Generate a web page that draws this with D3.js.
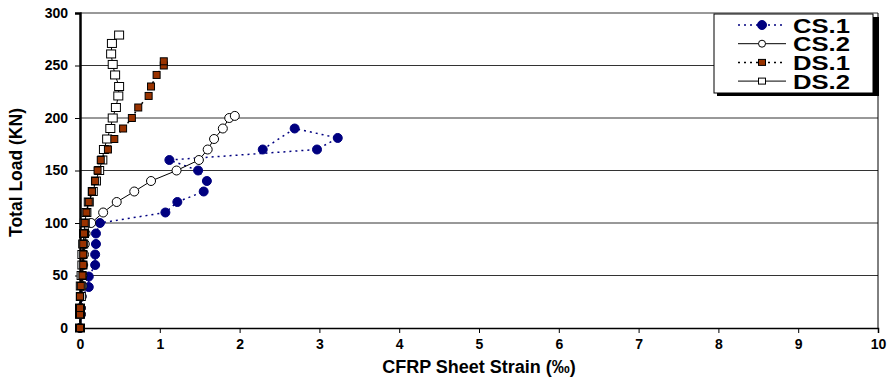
<!DOCTYPE html>
<html>
<head>
<meta charset="utf-8">
<script src="https://cdn.jsdelivr.net/npm/d3@7"></script>
<style>
  body { margin: 0; background: #fff; }
  text { font-family: "Liberation Sans", Arial, sans-serif; font-weight: bold; }
</style>
</head>
<body>
<div id="chart"></div>
<script>
// CS.1 - filled circles, dotted
let cs1Strain = [0, 0.01, 0.01, 0.02, 0.11, 0.11, 0.19, 0.19, 0.2, 0.2, 0.25, 1.07, 1.22, 1.55, 1.59, 1.48, 1.12, 2.97, 3.23, 2.69, 2.29];
let cs1Load   = [0, 13, 19, 30, 39, 49, 60, 70, 80, 90, 100, 110, 120, 130, 140, 150, 160, 170, 181, 190, 170];

// CS.2 - open circles, solid
let cs2Strain = [0, 0.01, 0.01, 0.02, 0.03, 0.03, 0.04, 0.05, 0.06, 0.07, 0.14, 0.29, 0.46, 0.68, 0.89, 1.21, 1.49, 1.6, 1.68, 1.79, 1.87, 1.94];
let cs2Load   = [0, 13, 19, 30, 40, 50, 60, 70, 80, 90, 100, 110, 120, 130, 140, 150, 160, 170, 180, 190, 200, 202];

// DS.1 - filled squares, dotted
let ds1Strain = [0, 0.0, 0.0, 0.0, 0.01, 0.03, 0.04, 0.04, 0.04, 0.05, 0.06, 0.08, 0.11, 0.15, 0.19, 0.22, 0.26, 0.35, 0.43, 0.54, 0.65, 0.73, 0.86, 0.89, 0.96, 1.05, 1.05];
let ds1Load   = [0, 13, 19, 30, 40, 50, 60, 70, 80, 90, 100, 110, 120, 130, 140, 150, 160, 170, 180, 190, 200, 210, 221, 230, 241, 250, 254];

// DS.2 - open squares, solid
let ds2Strain = [0, 0.0, 0.0, 0.01, 0.01, 0.02, 0.03, 0.03, 0.04, 0.05, 0.06, 0.08, 0.11, 0.16, 0.2, 0.24, 0.28, 0.3, 0.34, 0.38, 0.41, 0.45, 0.48, 0.49, 0.44, 0.41, 0.39, 0.4, 0.49];
let ds2Load   = [0, 13, 19, 30, 40, 50, 60, 70, 80, 90, 100, 110, 120, 130, 140, 150, 160, 170, 180, 190, 200, 210, 221, 230, 241, 251, 261, 271, 279];

let xTicks = [0, 1, 2, 3, 4, 5, 6, 7, 8, 9, 10];
let yTicks = [0, 50, 100, 150, 200, 250, 300];
let seriesNames = ["CS.1", "CS.2", "DS.1", "DS.2"];

let width = 887, height = 378;
let margin = {top: 13, right: 9, bottom: 50, left: 80};
let _width = width - margin.left - margin.right,
    _height = height - margin.top - margin.bottom;

let svg = d3.select("#chart")
    .append("svg")
    .attr("width", width)
    .attr("height", height);

let g = svg.append("g")
    .attr("transform", "translate(" + margin.left + "," + margin.top + ")");

let xScale = d3.scaleLinear().domain([0, 10]).range([0, _width]);
let yScale = d3.scaleLinear().domain([0, 300]).range([_height, 0]);

// gridlines
g.append("g")
    .selectAll("line")
    .data(yTicks.filter(d => d > 0))
    .enter().append("line")
    .attr("x1", 0).attr("x2", _width)
    .attr("y1", d => yScale(d)).attr("y2", d => yScale(d))
    .attr("stroke", "#333").attr("stroke-width", 1);

// right border of plot area
g.append("line")
    .attr("x1", _width).attr("x2", _width)
    .attr("y1", 0).attr("y2", _height)
    .attr("stroke", "#000").attr("stroke-width", 1);

// x axis
let xAxis = g.append("g")
    .attr("transform", "translate(0," + _height + ")")
    .call(d3.axisBottom(xScale).tickValues(xTicks).tickSize(5).tickPadding(6));
xAxis.select(".domain").attr("stroke-width", 1.5);
xAxis.selectAll("text").attr("font-size", 14).attr("fill", "#000")
    .style("font-family", "'Liberation Sans', Arial, sans-serif");

// y axis
let yAxis = g.append("g")
    .call(d3.axisLeft(yScale).tickValues(yTicks).tickSize(5).tickPadding(7));
yAxis.select(".domain").attr("stroke-width", 2.5);
yAxis.selectAll("text").attr("font-size", 14).attr("fill", "#000")
    .style("font-family", "'Liberation Sans', Arial, sans-serif");

// axis titles
svg.append("text")
    .attr("x", margin.left + _width / 2)
    .attr("y", 373)
    .attr("text-anchor", "middle")
    .attr("font-size", 18)
    .text("CFRP Sheet Strain (‰)");

svg.append("text")
    .attr("transform", "translate(22," + (margin.top + _height / 2 + 2) + ") rotate(-90)")
    .attr("text-anchor", "middle")
    .attr("font-size", 17.5)
    .text("Total Load (KN)");

function zip(xs, ys) {
    return xs.map((x, i) => ({x: x, y: ys[i]}));
}

let line = d3.line()
    .x(d => xScale(d.x))
    .y(d => yScale(d.y));

let cs1 = zip(cs1Strain, cs1Load),
    cs2 = zip(cs2Strain, cs2Load),
    ds1 = zip(ds1Strain, ds1Load),
    ds2 = zip(ds2Strain, ds2Load);

// CS.1
g.append("path").datum(cs1)
    .attr("fill", "none").attr("stroke", "#000080")
    .attr("stroke-width", 1.5).attr("stroke-dasharray", "2,4")
    .attr("d", line);
g.selectAll(".cs1").data(cs1).enter().append("circle")
    .attr("cx", d => xScale(d.x)).attr("cy", d => yScale(d.y))
    .attr("r", 4.5).attr("fill", "#000080").attr("stroke", "#000080");

// CS.2
g.append("path").datum(cs2)
    .attr("fill", "none").attr("stroke", "#000").attr("stroke-width", 1)
    .attr("d", line);
g.selectAll(".cs2").data(cs2).enter().append("circle")
    .attr("cx", d => xScale(d.x)).attr("cy", d => yScale(d.y))
    .attr("r", 4.5).attr("fill", "#fff").attr("stroke", "#000");

// DS.2
g.append("path").datum(ds2)
    .attr("fill", "none").attr("stroke", "#000").attr("stroke-width", 1)
    .attr("d", line);
g.selectAll(".ds2").data(ds2).enter().append("rect")
    .attr("x", d => xScale(d.x) - 4.5).attr("y", d => yScale(d.y) - 4)
    .attr("width", 9).attr("height", 8)
    .attr("fill", "#fff").attr("stroke", "#000");

// DS.1
g.append("path").datum(ds1)
    .attr("fill", "none").attr("stroke", "#000")
    .attr("stroke-width", 1.5).attr("stroke-dasharray", "2,4")
    .attr("d", line);
g.selectAll(".ds1").data(ds1).enter().append("rect")
    .attr("x", d => xScale(d.x) - 3.5).attr("y", d => yScale(d.y) - 3.5)
    .attr("width", 7).attr("height", 7)
    .attr("fill", "#993300").attr("stroke", "#000");

// legend
let lg = svg.append("g").attr("transform", "translate(714,14)");
lg.append("rect").attr("x", 3).attr("y", 3).attr("width", 162).attr("height", 79).attr("fill", "#000");
lg.append("rect").attr("x", 0).attr("y", 0).attr("width", 159).attr("height", 79)
    .attr("fill", "#fff").attr("stroke", "#000").attr("stroke-width", 1);

let legendStyle = [
    {stroke: "#000080", dash: "2,4", w: 1.5, shape: "circle", fill: "#000080", mstroke: "#000080"},
    {stroke: "#000", dash: null, w: 1, shape: "circle", fill: "#fff", mstroke: "#000"},
    {stroke: "#000", dash: "2,4", w: 1.5, shape: "rect", fill: "#993300", mstroke: "#000"},
    {stroke: "#000", dash: null, w: 1, shape: "rect", fill: "#fff", mstroke: "#000"}
];

seriesNames.forEach(function(name, i) {
    let s = legendStyle[i];
    let yy = 11 + i * 18.7;
    lg.append("line").attr("x1", 24).attr("x2", 72).attr("y1", yy).attr("y2", yy)
        .attr("stroke", s.stroke).attr("stroke-width", s.w)
        .attr("stroke-dasharray", s.dash);
    if (s.shape === "circle") {
        lg.append("circle").attr("cx", 48).attr("cy", yy).attr("r", i === 0 ? 4.5 : 3.5)
            .attr("fill", s.fill).attr("stroke", s.mstroke);
    } else {
        lg.append("rect").attr("x", 44.5).attr("y", yy - 3).attr("width", 7).attr("height", 6)
            .attr("fill", s.fill).attr("stroke", s.mstroke);
    }
    lg.append("text").attr("x", 79).attr("y", yy + 7.5)
        .attr("font-size", 20)
        .attr("textLength", 57).attr("lengthAdjust", "spacingAndGlyphs")
        .text(name);
});
</script>
</body>
</html>
